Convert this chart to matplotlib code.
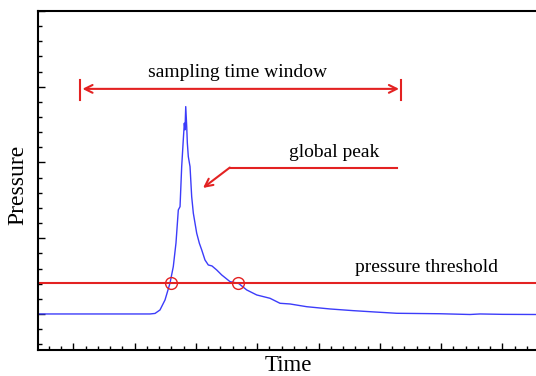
import matplotlib
matplotlib.use("Agg")
import matplotlib.pyplot as plt
from matplotlib.ticker import MultipleLocator

# pressure trace (arbitrary units, 1 unit = 1 major tick)
time = [0.424, 2.251, 2.333, 2.414, 2.496, 2.577, 2.631, 2.675, 2.713, 2.741,
        2.768, 2.794, 2.811, 2.822, 2.834, 2.850, 2.860, 2.876, 2.904, 2.931,
        2.958, 3.013, 3.056, 3.095, 3.148, 3.202, 3.262, 3.339, 3.421, 3.556,
        3.692, 3.829, 3.992, 4.209, 4.372, 4.535, 4.807, 5.188, 5.563, 5.922,
        6.276, 6.982, 7.471, 7.634, 8.000, 8.548]
pressure = [1.000, 1.000, 1.007, 1.053, 1.185, 1.406, 1.625, 1.938, 2.374, 2.417,
            2.946, 3.299, 3.519, 3.431, 3.738, 3.474, 3.259, 3.078, 2.946, 2.550,
            2.330, 2.066, 1.934, 1.845, 1.713, 1.647, 1.634, 1.581, 1.515, 1.427,
            1.406, 1.317, 1.251, 1.207, 1.141, 1.132, 1.096, 1.066, 1.044, 1.026,
            1.009, 1.003, 0.993, 1.000, 0.995, 0.993]

threshold = 1.41
crossings = [2.586, 3.679]
window = [1.109, 6.346]
window_level = 3.972
peak_label_line = [6.277, 3.553]
peak_label_level = 2.933
peak_arrow_tip = (3.116, 2.664)

RED = "#e32222"
BLUE = "#3c3cfa"
SERIF = "Liberation Serif"

fig = plt.figure(figsize=(5.36, 3.76), dpi=100)
ax = fig.add_axes([0.0709, 0.0691, 0.9291, 0.9016])

ax.plot(time, pressure, color=BLUE, lw=1.0)
ax.axhline(threshold, color=RED, lw=1.5)
ax.plot(crossings, [threshold] * len(crossings), "o", ms=8.5, mfc="none", mec=RED, mew=1.0)

# sampling time window
ax.annotate("", xy=(window[0] + 0.04, window_level), xytext=(window[1] - 0.033, window_level),
            arrowprops=dict(arrowstyle="<->", color=RED, lw=1.5, shrinkA=0, shrinkB=0,
                            mutation_scale=14))
for xb in window:
    ax.plot([xb, xb], [window_level - 0.145, window_level + 0.12], color=RED, lw=1.5)
ax.text(3.687, 4.184, "sampling time window", ha="center", va="center",
        fontsize=14, family=SERIF)

# global peak
ax.plot(peak_label_line, [peak_label_level] * 2, color=RED, lw=1.5)
ax.annotate("", xy=peak_arrow_tip, xytext=(peak_label_line[1], peak_label_level),
            arrowprops=dict(arrowstyle="->", color=RED, lw=1.5, shrinkA=0, shrinkB=0,
                            mutation_scale=14))
ax.text(5.250, 3.127, "global peak", ha="center", va="center", fontsize=14, family=SERIF)

ax.text(6.768, 1.608, "pressure threshold", ha="center", va="center", fontsize=14, family=SERIF)

ax.set_xlim(0.424, 8.548)
ax.set_ylim(0.524, 5.0)
ax.xaxis.set_major_locator(MultipleLocator(1))
ax.xaxis.set_minor_locator(MultipleLocator(0.2))
ax.yaxis.set_major_locator(MultipleLocator(1))
ax.yaxis.set_minor_locator(MultipleLocator(0.2))
ax.tick_params(which="both", direction="in", top=False, right=False,
               labelbottom=False, labelleft=False, width=1.0, color="black")
ax.tick_params(which="major", length=5)
ax.tick_params(which="minor", length=3)
for side in ["left", "bottom", "top"]:
    ax.spines[side].set_linewidth(1.5)
ax.spines["right"].set_visible(False)

ax.set_xlabel("Time", fontsize=16.5, family=SERIF, va="baseline")
ax.set_ylabel("Pressure", fontsize=17, family=SERIF)
ax.xaxis.set_label_coords(0.502, -0.062)
ax.yaxis.set_label_coords(-0.020, 0.487)

fig.savefig("out.png", dpi=100)
